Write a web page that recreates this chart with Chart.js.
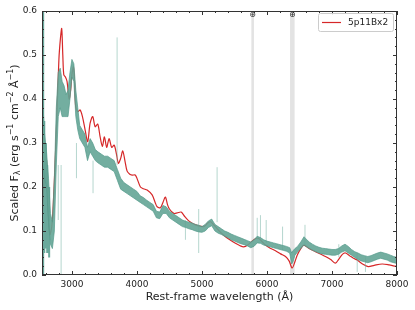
<!DOCTYPE html>
<html>
<head>
<meta charset="utf-8">
<script src="https://cdn.jsdelivr.net/npm/chart.js@4.4.1/dist/chart.umd.min.js"></script>
<style>
html, body { margin: 0; padding: 0; background: #fff; }
</style>
</head>
<body>
<canvas id="spec" width="415" height="310"></canvas>
<script>
const tealWave = [2550,2580,2610,2640,2670,2700,2730,2760,2790,2820,2850,2880,2910,2940,2970,3000,3030,3060,3090,3120,3160,3200,3240,3280,3320,3360,3400,3450,3500,3550,3600,3650,3700,3750,3800,3850,3900,3950,4000,4050,4100,4150,4200,4250,4300,4350,4400,4450,4500,4550,4600,4650,4700,4750,4800,4850,4900,4950,5000,5050,5100,5150,5200,5250,5300,5350,5400,5450,5500,5550,5600,5650,5700,5750,5800,5850,5900,5950,6000,6050,6100,6150,6200,6250,6300,6350,6380,6400,6430,6470,6520,6570,6600,6650,6700,6750,6800,6850,6900,6950,7000,7050,7100,7150,7200,7250,7300,7350,7400,7450,7500,7550,7600,7650,7700,7750,7800,7850,7900,7950,8000];
const tealLow  = [0.25,0.22,0.20,0.12,0.07,0.06,0.10,0.25,0.36,0.38,0.36,0.36,0.36,0.36,0.40,0.45,0.44,0.36,0.33,0.31,0.30,0.29,0.26,0.28,0.27,0.26,0.255,0.25,0.245,0.245,0.24,0.235,0.215,0.195,0.19,0.185,0.18,0.175,0.17,0.165,0.16,0.155,0.15,0.145,0.13,0.128,0.14,0.14,0.13,0.125,0.12,0.115,0.11,0.108,0.105,0.103,0.10,0.098,0.097,0.10,0.108,0.112,0.10,0.095,0.092,0.088,0.085,0.08,0.077,0.074,0.071,0.069,0.066,0.062,0.065,0.073,0.072,0.068,0.066,0.064,0.062,0.06,0.058,0.056,0.054,0.05,0.025,0.03,0.045,0.052,0.06,0.068,0.065,0.06,0.056,0.053,0.05,0.048,0.047,0.046,0.045,0.045,0.047,0.052,0.055,0.05,0.045,0.04,0.035,0.032,0.03,0.028,0.03,0.033,0.036,0.038,0.036,0.034,0.03,0.028,0.026];
const tealHigh = [0.40,0.32,0.28,0.22,0.14,0.12,0.22,0.38,0.46,0.47,0.44,0.43,0.41,0.42,0.46,0.49,0.48,0.42,0.38,0.34,0.33,0.32,0.29,0.31,0.30,0.285,0.28,0.275,0.27,0.27,0.265,0.26,0.24,0.22,0.21,0.205,0.20,0.195,0.19,0.18,0.176,0.17,0.165,0.16,0.145,0.143,0.158,0.155,0.145,0.14,0.135,0.13,0.125,0.122,0.12,0.118,0.115,0.113,0.11,0.115,0.123,0.127,0.115,0.11,0.105,0.10,0.097,0.093,0.09,0.087,0.084,0.081,0.078,0.075,0.08,0.088,0.085,0.08,0.077,0.075,0.073,0.071,0.069,0.067,0.065,0.062,0.05,0.055,0.06,0.065,0.075,0.087,0.082,0.075,0.07,0.066,0.063,0.061,0.06,0.059,0.058,0.058,0.06,0.066,0.07,0.065,0.058,0.053,0.05,0.046,0.044,0.042,0.044,0.047,0.05,0.052,0.05,0.048,0.045,0.042,0.04];

// narrow noise spikes / bad pixels in the observed spectrum
const spikeWave = [2790,2834,3070,3325,3695,4746,4950,5233,5850,5900,5988,6240,6585,7105,7388,7515];
const spikeLow  = [0.125,0.0,0.22,0.186,0.25,0.08,0.05,0.12,0.08,0.084,0.073,0.057,0.068,0.04,0.007,0.007];
const spikeHigh = [0.25,0.25,0.30,0.26,0.54,0.125,0.15,0.245,0.13,0.136,0.125,0.11,0.114,0.07,0.05,0.04];
const edgeWave = [2546,2552,2558,2575,2600,2620,2650];
const edgeLow  = [0.0,0.0,0.0,0.05,0.06,0.05,0.04];
const edgeHigh = [0.6,0.6,0.6,0.35,0.30,0.25,0.20];

// --- model spectrum 5p11Bx2 (red) ---
const modelWave = [2545,2570,2595,2610,2630,2660,2690,2715,2740,2766,2800,2825,2843,2860,2875,2900,2925,2957,2980,3000,3023,3040,3058,3089,3126,3162,3203,3243,3280,3320,3357,3397,3434,3469,3500,3535,3572,3612,3650,3685,3715,3750,3782,3815,3849,3890,3926,3977,4054,4100,4157,4234,4280,4311,4362,4400,4438,4470,4500,4566,4620,4680,4740,4797,4900,5028,5090,5131,5170,5208,5280,5362,5440,5515,5580,5643,5710,5772,5830,5874,5930,5977,6050,6131,6210,6285,6340,6388,6430,6465,6520,6566,6650,6746,6830,6900,6980,7054,7100,7160,7208,7270,7330,7388,7470,7557,7650,7772,7880,7977,8000];
const modelFlux = [0.13,0.21,0.27,0.26,0.17,0.092,0.11,0.165,0.25,0.35,0.49,0.54,0.56,0.50,0.455,0.45,0.44,0.40,0.42,0.455,0.473,0.44,0.383,0.371,0.375,0.36,0.33,0.303,0.345,0.36,0.337,0.343,0.314,0.292,0.314,0.29,0.31,0.29,0.295,0.275,0.254,0.265,0.282,0.26,0.236,0.229,0.227,0.227,0.20,0.196,0.193,0.182,0.165,0.155,0.153,0.165,0.177,0.16,0.15,0.14,0.141,0.143,0.132,0.123,0.114,0.11,0.118,0.121,0.116,0.11,0.098,0.087,0.079,0.072,0.067,0.064,0.069,0.077,0.083,0.083,0.075,0.068,0.061,0.055,0.048,0.042,0.032,0.016,0.03,0.045,0.06,0.068,0.06,0.053,0.047,0.042,0.035,0.027,0.035,0.047,0.05,0.044,0.038,0.034,0.025,0.019,0.022,0.025,0.023,0.02,0.02];

// telluric bands
const tellLo = [5760, 6355];
const tellHi = [5800, 6425];

const xTicks = [3000, 4000, 5000, 6000, 7000, 8000];
const yTicks = [0.0, 0.1, 0.2, 0.3, 0.4, 0.5, 0.6];

const FONT = '"DejaVu Sans", "Liberation Sans", sans-serif';

function pts(w, f) {
    return w.map((v, i) => ({ x: v, y: f[i] }));
}

function segs(w, lo, hi) {
    const out = [];
    w.forEach((v, i) => {
        out.push({ x: v, y: lo[i] });
        out.push({ x: v, y: hi[i] });
        out.push({ x: v, y: null });
    });
    return out;
}

const extras = {
    id: 'extras',
    beforeDatasetsDraw(chart) {
        const { ctx, chartArea: a, scales } = chart;
        const xs = scales.x;
        ctx.save();
        ctx.fillStyle = '#e3e3e3';
        for (let i = 0; i < tellLo.length; i++) {
            const x0 = xs.getPixelForValue(tellLo[i]);
            const x1 = xs.getPixelForValue(tellHi[i]);
            ctx.fillRect(x0, a.top, x1 - x0, a.bottom - a.top);
        }
        ctx.restore();
    },
    afterDraw(chart) {
        const { ctx, chartArea: a, scales } = chart;
        const xs = scales.x, ys = scales.y;
        ctx.save();

        // frame
        ctx.strokeStyle = '#333';
        ctx.lineWidth = 1;
        ctx.strokeRect(a.left + 0.5, a.top + 0.5, a.right - a.left - 1, a.bottom - a.top - 1);

        // inward ticks on all sides
        ctx.beginPath();
        for (let v = 2600; v <= 8000; v += 200) {
            const x = Math.round(xs.getPixelForValue(v)) + 0.5;
            const len = v % 1000 === 0 ? 4 : 2;
            ctx.moveTo(x, a.bottom); ctx.lineTo(x, a.bottom - len);
            ctx.moveTo(x, a.top); ctx.lineTo(x, a.top + len);
        }
        for (let k = 0; k <= 30; k++) {
            const y = Math.round(ys.getPixelForValue(k * 0.02)) + 0.5;
            const len = k % 5 === 0 ? 4 : 2;
            ctx.moveTo(a.left, y); ctx.lineTo(a.left + len, y);
            ctx.moveTo(a.right, y); ctx.lineTo(a.right - len, y);
        }
        ctx.stroke();

        // earth symbols over telluric bands
        ctx.fillStyle = '#333';
        ctx.font = '8px ' + FONT;
        ctx.textAlign = 'center';
        ctx.textBaseline = 'middle';
        for (let i = 0; i < tellLo.length; i++) {
            const x = xs.getPixelForValue((tellLo[i] + tellHi[i]) / 2);
            ctx.fillText('\u2295', x, a.top + 4);
        }

        // legend
        const lx = 318, ly = 13, lw = 75, lh = 18;
        ctx.fillStyle = 'rgba(255,255,255,0.9)';
        ctx.strokeStyle = '#cccccc';
        ctx.lineWidth = 1;
        ctx.beginPath();
        ctx.roundRect(lx + 0.5, ly + 0.5, lw, lh, 2);
        ctx.fill();
        ctx.stroke();
        ctx.strokeStyle = '#d62728';
        ctx.lineWidth = 1.2;
        ctx.beginPath();
        ctx.moveTo(322, ly + 9.5); ctx.lineTo(341, ly + 9.5);
        ctx.stroke();
        ctx.fillStyle = '#222';
        ctx.font = '9px ' + FONT;
        ctx.textAlign = 'left';
        ctx.fillText('5p11Bx2', 348, ly + 10);

        // x title
        ctx.font = '11px ' + FONT;
        ctx.textAlign = 'center';
        ctx.fillText('Rest-frame wavelength (\u00c5)', (a.left + a.right) / 2, 297);

        // y title with sub/superscripts
        const parts = [['Scaled F', 0], ['\u03bb', -1], [' (erg s', 0], ['\u22121', 1], [' cm', 0], ['\u22122', 1], [' \u00c5', 0], ['\u22121', 1], [')', 0]];
        const fontFor = p => (p[1] === 0 ? '11px ' : '8px ') + FONT;
        let total = 0;
        parts.forEach(p => { ctx.font = fontFor(p); total += ctx.measureText(p[0]).width; });
        ctx.translate(13, (a.top + a.bottom) / 2);
        ctx.rotate(-Math.PI / 2);
        ctx.textAlign = 'left';
        ctx.textBaseline = 'alphabetic';
        let cx = -total / 2;
        parts.forEach(p => {
            ctx.font = fontFor(p);
            const dy = p[1] === 1 ? -4.5 : (p[1] === -1 ? 2.5 : 0);
            ctx.fillText(p[0], cx, 4.5 + dy);
            cx += ctx.measureText(p[0]).width;
        });
        ctx.restore();
    }
};

new Chart(document.getElementById('spec'), {
    type: 'line',
    data: {
        datasets: [
            {
                data: pts(tealWave, tealLow),
                borderColor: 'rgba(85,155,140,0.9)',
                borderWidth: 0.8,
                pointRadius: 0,
                fill: false
            },
            {
                data: pts(tealWave, tealHigh),
                borderColor: 'rgba(85,155,140,0.9)',
                borderWidth: 0.8,
                backgroundColor: 'rgba(100,165,150,0.9)',
                pointRadius: 0,
                fill: '-1'
            },
            {
                data: segs(spikeWave, spikeLow, spikeHigh),
                borderColor: 'rgba(120,180,165,0.55)',
                borderWidth: 1,
                pointRadius: 0,
                spanGaps: false
            },
            {
                data: segs(edgeWave, edgeLow, edgeHigh),
                borderColor: 'rgba(90,160,145,0.9)',
                borderWidth: 2,
                pointRadius: 0,
                spanGaps: false
            },
            {
                label: '5p11Bx2',
                data: pts(modelWave, modelFlux),
                borderColor: '#d62728',
                borderWidth: 1.2,
                pointRadius: 0,
                tension: 0.3,
                fill: false
            }
        ]
    },
    options: {
        responsive: false,
        animation: false,
        layout: { padding: { left: 0, top: 11, right: 18, bottom: 0 } },
        plugins: { legend: { display: false }, tooltip: { enabled: false } },
        scales: {
            x: {
                type: 'linear',
                min: 2540,
                max: 8000,
                grid: { display: false, drawTicks: false },
                border: { display: false },
                afterBuildTicks: s => { s.ticks = xTicks.map(v => ({ value: v })); },
                afterFit: s => { s.height = 35; },
                ticks: {
                    padding: 4,
                    maxRotation: 0,
                    color: '#222',
                    font: { family: FONT, size: 9 },
                    callback: v => String(v)
                }
            },
            y: {
                min: 0,
                max: 0.6,
                grid: { display: false, drawTicks: false },
                border: { display: false },
                afterBuildTicks: s => { s.ticks = yTicks.map(v => ({ value: v })); },
                afterFit: s => { s.width = 42; },
                ticks: {
                    padding: 5,
                    color: '#222',
                    font: { family: FONT, size: 9 },
                    callback: v => v.toFixed(1)
                }
            }
        }
    },
    plugins: [extras]
});
</script>
</body>
</html>
